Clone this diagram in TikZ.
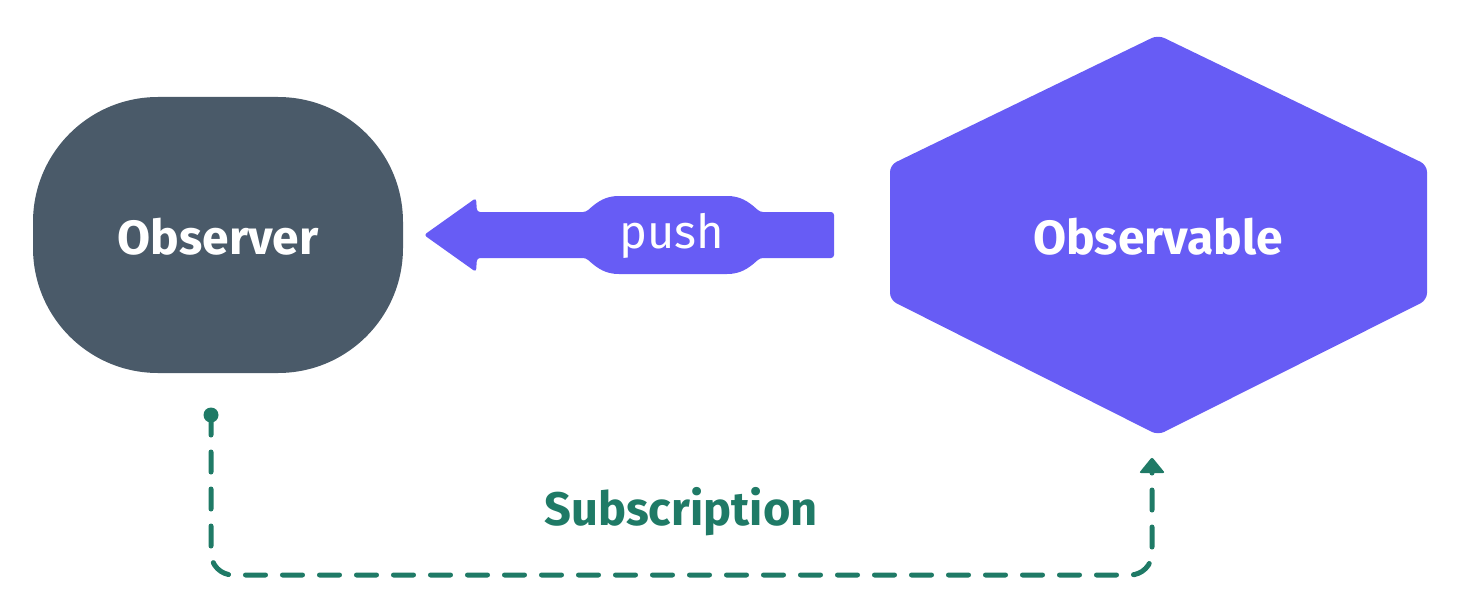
\documentclass[tikz,border=0pt]{standalone}
\usepackage{fontspec}
\setmainfont{Fira Sans}
\usetikzlibrary{arrows.meta}
\definecolor{obsgray}{HTML}{4A5A69}
\definecolor{purp}{HTML}{675CF5}
\definecolor{subgreen}{HTML}{1F7A66}
\tikzset{
  lbl/.style={text=white,font=\fontsize{48}{54}\selectfont\bfseries},
  pushlbl/.style={text=white,font=\fontsize{47}{54}\selectfont},
  sublbl/.style={text=subgreen,font=\fontsize{47}{54}\selectfont\bfseries},
  subline/.style={draw=subgreen,line width=5pt,line cap=round,dash pattern=on 20pt off 17pt,rounded corners=22pt}
}
\begin{document}
\begin{tikzpicture}[x=1pt,y=-1pt]
\useasboundingbox (0,0) rectangle (1461,615);
% Observer
\fill[obsgray,rounded corners=125pt] (33,97) rectangle (403,373);
\node[lbl] (observer) at (218,237) {Observer};
% Observable hexagon
\fill[purp,rounded corners=7pt] (1158,35) -- (1427,165) -- (1427,300) -- (1158,435) -- (890,300) -- (890,165) -- cycle;
\node[lbl] (observable) at (1158,237) {Observable};
% push arrow
\fill[purp,rounded corners=3pt] (424,235) -- (476,198) -- (477,212) -- (586,212)
  .. controls (598,201) and (606,196) .. (622,196) -- (724,196)
  .. controls (740,196) and (748,201) .. (760,212) -- (834,212) -- (834,258) -- (760,258)
  .. controls (748,269) and (740,274) .. (724,274) -- (622,274)
  .. controls (606,274) and (598,269) .. (586,258) -- (477,258) -- (476,272) -- cycle;
\node[pushlbl] (push) at (672,236) {push};
% subscription
\coordinate (s0) at (211,415);
\coordinate (s1) at (1152,457);
\fill[subgreen] (s0) circle (7.5pt);
\draw[subline] (s0) -- (211,575) -- (1152,575) -- (1152,468);
\fill[subgreen,rounded corners=2pt] (s1) -- (1165,473) -- (1139,473) -- cycle;
\node[sublbl] (sub) at (681,512) {Subscription};
\end{tikzpicture}
\end{document}
